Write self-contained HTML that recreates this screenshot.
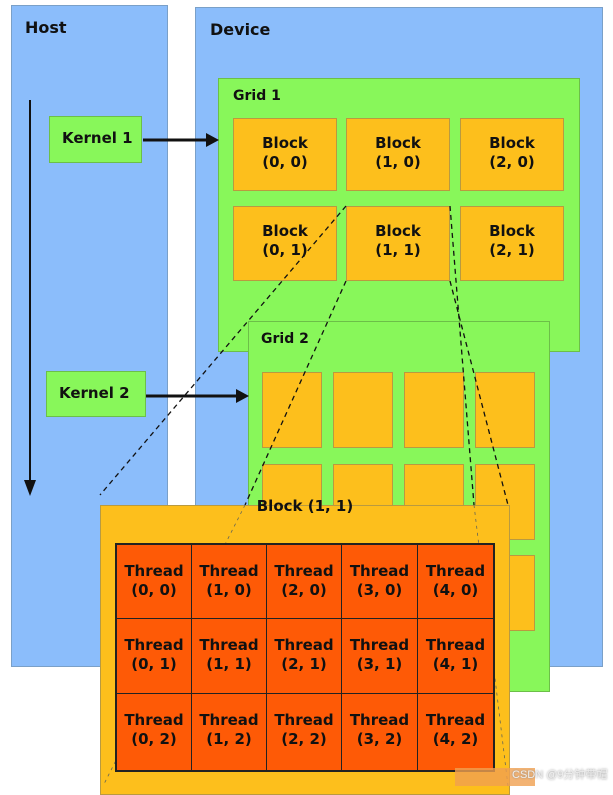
<!DOCTYPE html>
<html><head><meta charset="utf-8"><style>
body{margin:0;width:613px;height:786px;background:#fff;overflow:hidden;position:relative;font-family:"DejaVu Sans","Liberation Sans",sans-serif;font-weight:bold;color:#111}
div{position:absolute;box-sizing:border-box}
.blue{background:#8bbdfb;border:1px solid #7aa0c8}
.green{background:#88f75a;border:1px solid #6cbf48}
.org{background:#fdbf1c;border:1px solid #b99a40;text-align:center;font-size:15px;line-height:19px}
.th{background:#fe5a06;text-align:center;font-size:15px;line-height:19px;border:1px solid #222;padding-top:17px}
.lbl{font-size:15px}
</style></head><body>
<div class="blue" style="left:11px;top:5px;width:157px;height:662px"></div>
<div class="lbl" style="left:25px;top:18px;font-size:16px">Host</div>
<div class="blue" style="left:195px;top:7px;width:408px;height:660px"></div>
<div class="lbl" style="left:210px;top:20px;font-size:16px">Device</div>
<div class="green" style="left:218px;top:78px;width:362px;height:274px"></div>
<div class="lbl" style="left:233px;top:88px;font-size:14px">Grid 1</div>
<div class="org" style="left:233px;top:118px;width:104px;height:73px;padding-top:15px">Block<br>(0, 0)</div>
<div class="org" style="left:346px;top:118px;width:104px;height:73px;padding-top:15px">Block<br>(1, 0)</div>
<div class="org" style="left:460px;top:118px;width:104px;height:73px;padding-top:15px">Block<br>(2, 0)</div>
<div class="org" style="left:233px;top:206px;width:104px;height:75px;padding-top:15px">Block<br>(0, 1)</div>
<div class="org" style="left:346px;top:206px;width:104px;height:75px;padding-top:15px">Block<br>(1, 1)</div>
<div class="org" style="left:460px;top:206px;width:104px;height:75px;padding-top:15px">Block<br>(2, 1)</div>
<div class="green" style="left:248px;top:321px;width:302px;height:371px"></div>
<div class="lbl" style="left:261px;top:331px;font-size:14px">Grid 2</div>
<div class="org" style="left:262px;top:372px;width:60px;height:76px"></div>
<div class="org" style="left:333px;top:372px;width:60px;height:76px"></div>
<div class="org" style="left:404px;top:372px;width:60px;height:76px"></div>
<div class="org" style="left:475px;top:372px;width:60px;height:76px"></div>
<div class="org" style="left:262px;top:464px;width:60px;height:76px"></div>
<div class="org" style="left:333px;top:464px;width:60px;height:76px"></div>
<div class="org" style="left:404px;top:464px;width:60px;height:76px"></div>
<div class="org" style="left:475px;top:464px;width:60px;height:76px"></div>
<div class="org" style="left:475px;top:555px;width:60px;height:76px"></div>
<div class="green" style="left:49px;top:116px;width:93px;height:47px;font-size:15px;padding:12px 0 0 12px">Kernel 1</div>
<div class="green" style="left:46px;top:371px;width:100px;height:46px;font-size:15px;padding:12px 0 0 12px">Kernel 2</div>
<svg style="position:absolute;left:0;top:0" width="613" height="786">
<line x1="30" y1="100" x2="30" y2="482" stroke="#111" stroke-width="2"/>
<polygon points="24,480 36,480 30,496" fill="#111"/>
<line x1="143" y1="140" x2="208" y2="140" stroke="#111" stroke-width="3"/>
<polygon points="206,133 206,147 219,140" fill="#111"/>
<line x1="146" y1="396" x2="238" y2="396" stroke="#111" stroke-width="3"/>
<polygon points="236,389 236,403 249,396" fill="#111"/>
<g stroke="#111" stroke-width="1.3" stroke-dasharray="5,4" fill="none">
<line x1="346" y1="206" x2="100" y2="495"/>
<line x1="346" y1="281" x2="245" y2="505"/>
<line x1="450" y1="206" x2="474" y2="505"/>
<line x1="450" y1="281" x2="508" y2="505"/>
</g>
</svg>
<div class="org" style="left:100px;top:505px;width:410px;height:290px;font-size:15px;padding-top:-0px"><div style="position:static;margin-top:-8px"></div></div>
<div class="lbl" style="left:100px;top:497px;width:410px;text-align:center">Block (1, 1)</div>
<svg style="position:absolute;left:0;top:0" width="613" height="786">
<g stroke="#665" stroke-width="0.8" stroke-dasharray="3,4" fill="none">
<line x1="245" y1="505" x2="103" y2="786"/>
<line x1="474" y1="505" x2="508" y2="786"/>
</g></svg>
<div style="left:115px;top:543px;width:380px;height:229px;border:2px solid #222;background:#fe5a06"></div>
<div class="th" style="left:116px;top:544px;width:76px;height:75px">Thread<br>(0, 0)</div>
<div class="th" style="left:191px;top:544px;width:76px;height:75px">Thread<br>(1, 0)</div>
<div class="th" style="left:266px;top:544px;width:76px;height:75px">Thread<br>(2, 0)</div>
<div class="th" style="left:341px;top:544px;width:77px;height:75px">Thread<br>(3, 0)</div>
<div class="th" style="left:417px;top:544px;width:77px;height:75px">Thread<br>(4, 0)</div>
<div class="th" style="left:116px;top:618px;width:76px;height:76px">Thread<br>(0, 1)</div>
<div class="th" style="left:191px;top:618px;width:76px;height:76px">Thread<br>(1, 1)</div>
<div class="th" style="left:266px;top:618px;width:76px;height:76px">Thread<br>(2, 1)</div>
<div class="th" style="left:341px;top:618px;width:77px;height:76px">Thread<br>(3, 1)</div>
<div class="th" style="left:417px;top:618px;width:77px;height:76px">Thread<br>(4, 1)</div>
<div class="th" style="left:116px;top:693px;width:76px;height:78px">Thread<br>(0, 2)</div>
<div class="th" style="left:191px;top:693px;width:76px;height:78px">Thread<br>(1, 2)</div>
<div class="th" style="left:266px;top:693px;width:76px;height:78px">Thread<br>(2, 2)</div>
<div class="th" style="left:341px;top:693px;width:77px;height:78px">Thread<br>(3, 2)</div>
<div class="th" style="left:417px;top:693px;width:77px;height:78px">Thread<br>(4, 2)</div>
<div style="left:455px;top:768px;width:80px;height:18px;background:#f0a050;opacity:.8"></div>
<div style="left:512px;top:766px;font-size:11px;font-weight:normal;color:#eee;font-family:'Liberation Sans','Noto Sans CJK SC',sans-serif;text-shadow:0 0 2px #888">CSDN @9分钟带帽</div>
</body></html>
